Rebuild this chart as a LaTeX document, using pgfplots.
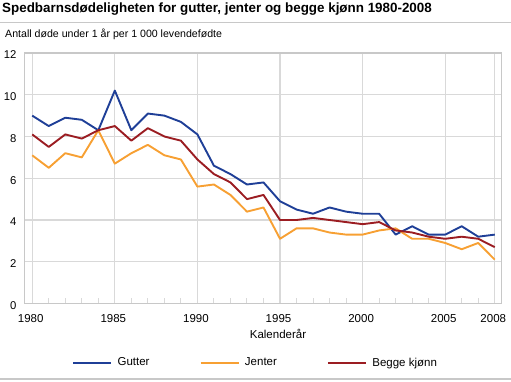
\documentclass[border=0pt]{standalone}
\usepackage{pgfplots}
\pgfplotsset{compat=1.18}
\usepackage{pgfplotstable}
\usepackage{fontspec}
\setmainfont{Liberation Sans}
\definecolor{cblue}{HTML}{1F3F97}
\definecolor{corange}{HTML}{F7A033}
\definecolor{cred}{HTML}{9B1D22}
\definecolor{cgrid}{HTML}{D9D9D9}
\definecolor{cline}{HTML}{C8C8C8}

\pgfplotstableread{
year gutter jenter begge
1980 9.0 7.1 8.1
1981 8.5 6.5 7.5
1982 8.9 7.2 8.1
1983 8.8 7.0 7.9
1984 8.3 8.3 8.3
1985 10.2 6.7 8.5
1986 8.3 7.2 7.8
1987 9.1 7.6 8.4
1988 9.0 7.1 8.0
1989 8.7 6.9 7.8
1990 8.1 5.6 6.9
1991 6.6 5.7 6.2
1992 6.2 5.2 5.8
1993 5.7 4.4 5.0
1994 5.8 4.6 5.2
1995 4.9 3.1 4.0
1996 4.5 3.6 4.0
1997 4.3 3.6 4.1
1998 4.6 3.4 4.0
1999 4.4 3.3 3.9
2000 4.3 3.3 3.8
2001 4.3 3.5 3.9
2002 3.3 3.6 3.5
2003 3.7 3.1 3.4
2004 3.3 3.1 3.2
2005 3.3 2.9 3.1
2006 3.7 2.6 3.2
2007 3.2 2.9 3.1
2008 3.3 2.1 2.7
}\datatable

\begin{document}
\begin{tikzpicture}[x=1pt,y=1pt]
\useasboundingbox (0,0) rectangle (511,381);
\node[anchor=base west, inner sep=0pt, font=\fontsize{13.4}{15}\selectfont\bfseries] at (2,368.7) {Spedbarnsdødeligheten for gutter, jenter og begge kjønn 1980-2008};
\draw[line width=1.5pt, color=cline] (0,358.3) -- (511,358.3);
\node[anchor=base west, inner sep=0pt, font=\fontsize{10.6}{13}\selectfont] at (5,343.7) {Antall døde under 1 år per 1 000 levendefødte};
\begin{axis}[
  at={(24.3pt,77.5pt)}, anchor=south west,
  scale only axis, width=477.4pt, height=250.5pt,
  xmin=1979.52, xmax=2008.42, ymin=0, ymax=12,
  /pgf/number format/assume math mode=true,
  xtick={1980,1985,1990,1995,2000,2005,2008},
  xticklabels={1980,1985,1990,1995,2000,2005,2008},
  minor xtick={1981,1982,...,2007},
  ytick={0,2,...,12},
  xmajorgrids, ymajorgrids,
  grid style={cgrid, line width=1.1pt},
  axis line style={cline, line width=1.2pt},
  major tick length=0pt, minor tick length=6pt,
  minor tick style={cgrid, line width=1pt},
  tick align=inside, xtick pos=bottom, ytick pos=left,
  yticklabel style={anchor=east, inner sep=0pt, xshift=-7.6pt, yshift=-2pt, font=\fontsize{11.3}{13}\selectfont},
  xticklabel style={anchor=base, inner sep=0pt, xshift=-1.5pt, yshift=-18.8pt, font=\fontsize{11.5}{13}\selectfont},
  legend columns=3,
  legend style={at={(0.0999,-0.2363)}, anchor=west, draw=none, fill=none, inner sep=0pt,
    nodes={inner sep=0pt},
    font=\fontsize{11.5}{13}\selectfont,
    /tikz/every odd column/.append style={column sep=5.5pt}},
  legend image code/.code={\draw[#1] (0pt,0pt) -- (38pt,0pt);},
  every axis plot/.append style={line width=1.9pt, line join=round},
]
\addplot[cblue, mark=none] table[x=year, y=gutter] {\datatable};
\addlegendentry{\makebox[82pt][l]{Gutter}}
\addplot[corange, mark=none] table[x=year, y=jenter] {\datatable};
\addlegendentry{\makebox[82pt][l]{Jenter}}
\addplot[cred, mark=none] table[x=year, y=begge] {\datatable};
\addlegendentry{\makebox[82pt][l]{Begge kjønn}}
\end{axis}
\node[anchor=base, inner sep=0pt, font=\fontsize{11.5}{13}\selectfont] at (278,43) {Kalenderår};
\draw[line width=2pt, color=cline] (0,2) -- (511,2);
\end{tikzpicture}
\end{document}
